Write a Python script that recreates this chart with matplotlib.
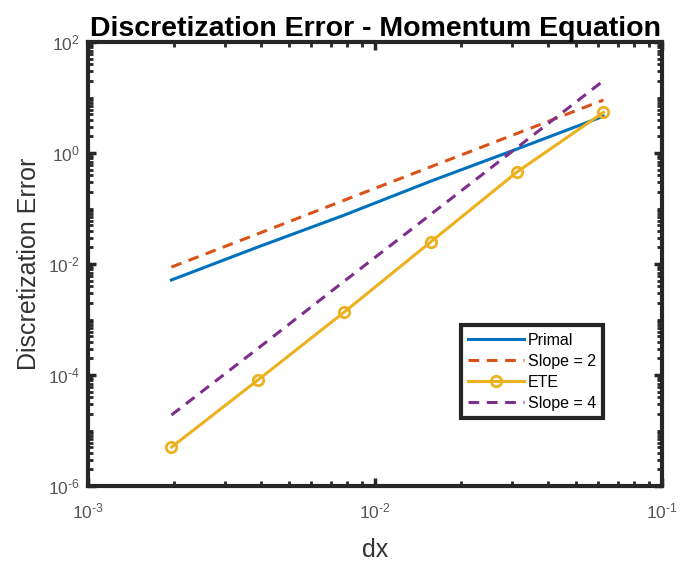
import matplotlib
matplotlib.use("Agg")
import math
import matplotlib.pyplot as plt
from matplotlib.ticker import LogLocator, FixedLocator, FuncFormatter, NullFormatter

plt.rcParams['font.family'] = ['Liberation Sans', 'DejaVu Sans']
plt.rcParams['mathtext.fontset'] = 'custom'
plt.rcParams['mathtext.rm'] = 'Liberation Sans'
plt.rcParams['mathtext.it'] = 'Liberation Sans:italic'
plt.rcParams['mathtext.bf'] = 'Liberation Sans:bold'

# Data
dx = [1/512, 1/256, 1/128, 1/64, 1/32, 1/16]
primal = [5.15e-3, 2.02e-2, 7.6e-2, 0.31, 1.18, 4.6]
slope2 = [8.8e-3, 3.5e-2, 0.141, 0.563, 2.25, 9.0]
ete = [5.0e-6, 8.1e-5, 1.36e-3, 2.49e-2, 0.455, 5.4]
slope4 = [1.9e-5, 3.0e-4, 4.9e-3, 7.8e-2, 1.25, 20.0]
labels = ["Primal", "Slope = 2", "ETE", "Slope = 4"]
xticks = [1e-3, 1e-2, 1e-1]
yticks = [1e-6, 1e-4, 1e-2, 1e0, 1e2]

title = "Discretization Error - Momentum Equation"
xlabel = "dx"
ylabel = "Discretization Error"

fig = plt.figure(figsize=(6.83, 5.62), dpi=100)
ax = fig.add_axes([88/683, 1-486/562, (662-88)/683, (486-42)/562])

lw = 2.2
ax.loglog(dx, primal, '-', color='#0072BD', lw=lw, label=labels[0])
ax.loglog(dx, slope2, '--', color='#D95319', lw=lw, dashes=(3.5, 2.5), label=labels[1])
ax.loglog(dx, ete, '-', color='#EDB120', lw=lw, marker='o', ms=7.5,
          mfc='none', mew=2, label=labels[2])
ax.loglog(dx, slope4, '--', color='#7E2F8E', lw=lw, dashes=(3.5, 2.5), label=labels[3])

ax.set_xlim(1e-3, 1e-1)
ax.set_ylim(1e-6, 1e2)

ax.xaxis.set_major_locator(FixedLocator(xticks))
ax.yaxis.set_major_locator(FixedLocator(yticks))
ax.xaxis.set_minor_locator(LogLocator(base=10, subs=range(2, 10), numticks=50))
ax.yaxis.set_minor_locator(LogLocator(base=10, subs=range(1, 10), numticks=50))
ax.xaxis.set_minor_formatter(NullFormatter())
ax.yaxis.set_minor_formatter(NullFormatter())

def fmt(v, pos):
    e = int(round(math.log10(v)))
    if e < 0:
        return r'$10^{\text{-}%d}$' % (-e)
    return r'$10^{%d}$' % e
ax.xaxis.set_major_formatter(FuncFormatter(fmt))
ax.yaxis.set_major_formatter(FuncFormatter(fmt))

for s in ax.spines.values():
    s.set_linewidth(3.0)
    s.set_color('#262626')

ax.tick_params(which='both', direction='in', top=True, right=True, color='#262626',
               labelsize=12.5, labelcolor='#555555')
ax.tick_params(which='major', length=6, width=2.5)
ax.tick_params(which='minor', length=3.5, width=2)
ax.tick_params(axis='x', which='major', pad=11)
ax.tick_params(axis='y', which='major', pad=6)

ax.set_title(title, fontsize=20.5, fontweight='bold', pad=3)
ax.set_xlabel(xlabel, fontsize=18, color='#333333', labelpad=12)
ax.set_ylabel(ylabel, fontsize=18, color='#333333', labelpad=5)

leg = ax.legend(loc='lower right', bbox_to_anchor=((603-88)/574, (486-418)/444),
                borderaxespad=0, fontsize=11.5, handlelength=3.5, handletextpad=0.2,
                labelspacing=0.38, borderpad=0.45, fancybox=False, framealpha=1)
leg.get_frame().set_edgecolor('#262626')
leg.get_frame().set_linewidth(3.0)

fig.savefig('out.png', dpi=100)
